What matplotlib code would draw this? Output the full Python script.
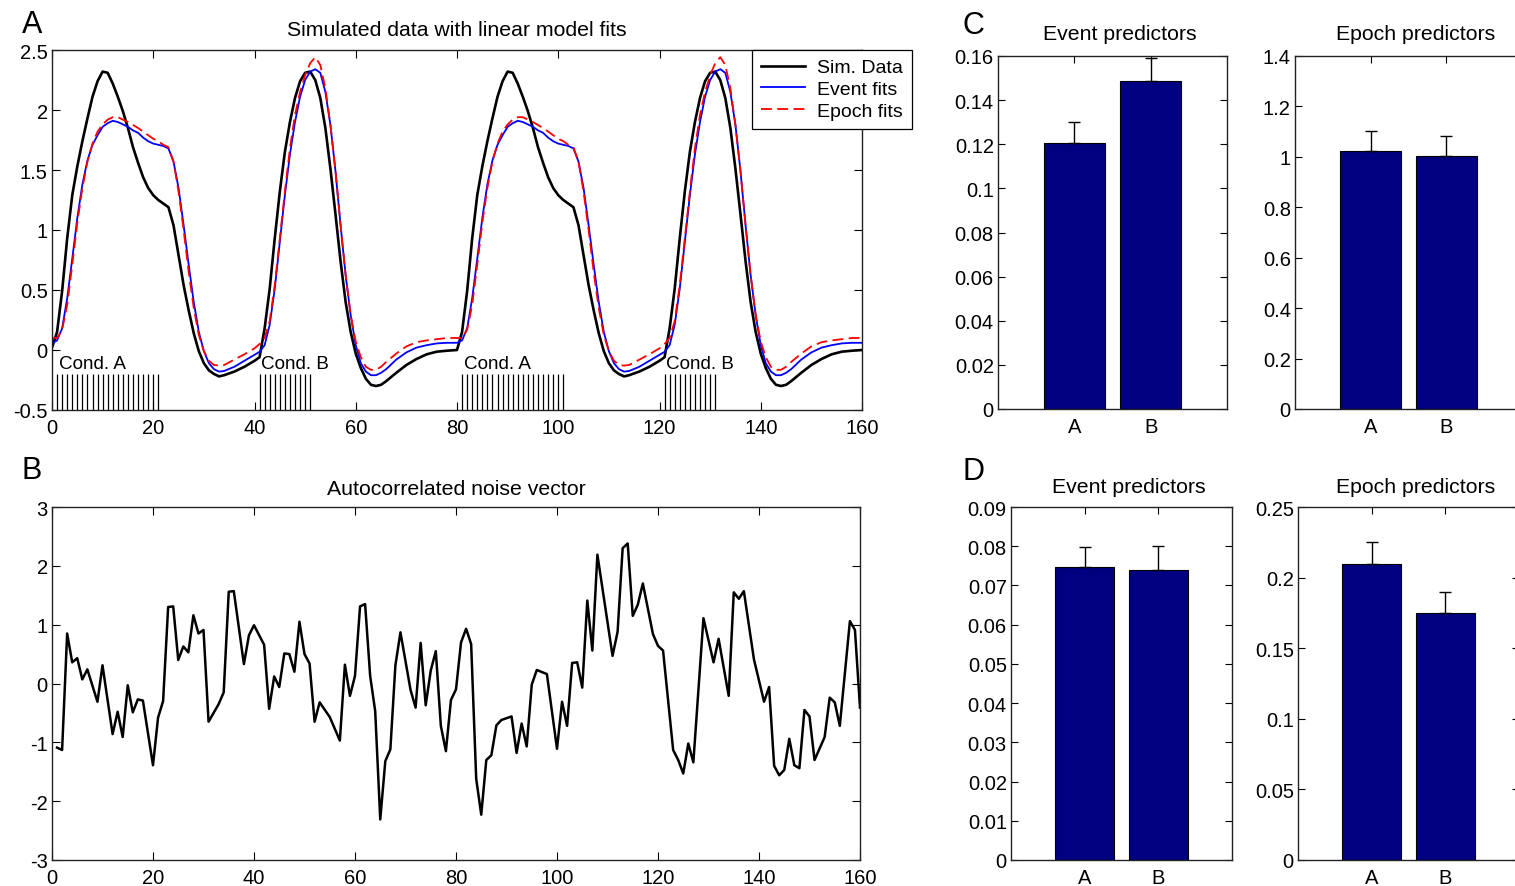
import matplotlib
matplotlib.use("Agg")
import matplotlib.pyplot as plt
import numpy as np
from matplotlib.ticker import FuncFormatter

plt.rcParams['font.family'] = ['Liberation Sans', 'DejaVu Sans']
plt.rcParams['axes.unicode_minus'] = False

# ---------------- Panel A data ----------------
t_fit = [0, 1, 2, 3, 4, 5, 6, 7, 8, 9, 10, 11, 12, 13, 14, 15, 16, 17, 18, 19, 20,
         21, 22, 23, 24, 25, 26, 27, 28, 29, 30, 31, 32, 33, 34, 36, 38, 40, 41, 42,
         43, 44, 45, 46, 47, 48, 49, 50, 51, 52, 53, 54, 55, 56, 57, 58, 59, 60, 61,
         62, 63, 64, 65, 66, 68, 70, 72, 74, 76, 78, 80,
         81, 82, 83, 84, 85, 86, 87, 88, 89, 90, 91, 92, 93, 94, 95, 96, 97, 98, 99, 100,
         101, 102, 103, 104, 105, 106, 107, 108, 109, 110, 111, 112, 113, 114, 116, 118, 120, 121, 122,
         123, 124, 125, 126, 127, 128, 129, 130, 131, 132, 133, 134, 135, 136, 137, 138, 139, 140, 141,
         142, 143, 144, 145, 146, 148, 150, 152, 154, 156, 158, 160]

sim_data = [0.02, 0.15, 0.49, 0.93, 1.29, 1.53, 1.74, 1.93, 2.11, 2.24, 2.32, 2.31, 2.22, 2.11, 1.99, 1.85, 1.69, 1.56, 1.44, 1.35, 1.29,
            1.25, 1.22, 1.19, 1.04, 0.79, 0.54, 0.33, 0.14, -0.01, -0.11, -0.17, -0.20, -0.22, -0.21, -0.18, -0.14, -0.09, -0.06, 0.18,
            0.51, 0.93, 1.32, 1.65, 1.90, 2.10, 2.24, 2.31, 2.32, 2.25, 2.10, 1.85, 1.51, 1.13, 0.74, 0.40, 0.15, -0.03, -0.15,
            -0.24, -0.29, -0.30, -0.29, -0.26, -0.19, -0.125, -0.075, -0.036, -0.014, -0.006, 0.0,
            0.15, 0.49, 0.93, 1.29, 1.53, 1.74, 1.93, 2.11, 2.24, 2.32, 2.31, 2.22, 2.11, 1.99, 1.85, 1.69, 1.56, 1.44, 1.35, 1.29,
            1.25, 1.22, 1.19, 1.04, 0.79, 0.54, 0.33, 0.14, -0.01, -0.11, -0.17, -0.20, -0.22, -0.21, -0.18, -0.14, -0.09, -0.06, 0.18,
            0.51, 0.93, 1.32, 1.65, 1.90, 2.10, 2.24, 2.31, 2.32, 2.25, 2.10, 1.85, 1.51, 1.13, 0.74, 0.40, 0.15, -0.03, -0.15,
            -0.24, -0.29, -0.30, -0.29, -0.26, -0.19, -0.125, -0.075, -0.036, -0.014, -0.006, 0.0]

event_fit = [0.055, 0.08, 0.18, 0.43, 0.76, 1.10, 1.38, 1.58, 1.71, 1.79, 1.86, 1.89, 1.91, 1.90, 1.88, 1.86, 1.83, 1.81, 1.77, 1.74, 1.72,
             1.71, 1.70, 1.68, 1.57, 1.35, 1.04, 0.71, 0.40, 0.15, -0.01, -0.11, -0.16, -0.18, -0.175, -0.14, -0.09, -0.04, -0.015, 0.04,
             0.21, 0.51, 0.90, 1.29, 1.63, 1.90, 2.11, 2.25, 2.32, 2.34, 2.31, 2.15, 1.875, 1.49, 1.04, 0.625, 0.29, 0.04, -0.11,
             -0.18, -0.21, -0.21, -0.19, -0.16, -0.08, -0.02, 0.02, 0.04, 0.055, 0.06, 0.06,
             0.08, 0.18, 0.43, 0.76, 1.10, 1.38, 1.58, 1.71, 1.79, 1.86, 1.89, 1.91, 1.90, 1.88, 1.86, 1.83, 1.81, 1.77, 1.74, 1.72,
             1.71, 1.70, 1.68, 1.57, 1.35, 1.04, 0.71, 0.40, 0.15, -0.01, -0.11, -0.16, -0.18, -0.175, -0.14, -0.09, -0.04, -0.015, 0.04,
             0.21, 0.51, 0.90, 1.29, 1.63, 1.90, 2.11, 2.25, 2.32, 2.34, 2.31, 2.15, 1.875, 1.49, 1.04, 0.625, 0.29, 0.04, -0.11,
             -0.18, -0.21, -0.21, -0.19, -0.16, -0.08, -0.02, 0.02, 0.04, 0.055, 0.06, 0.06]

epoch_fit = [0.10, 0.10, 0.17, 0.375, 0.71, 1.06, 1.35, 1.57, 1.72, 1.82, 1.88, 1.92, 1.94, 1.94, 1.92, 1.90, 1.875, 1.85, 1.82, 1.79, 1.76,
             1.74, 1.71, 1.69, 1.57, 1.32, 1.00, 0.65, 0.35, 0.125, -0.01, -0.09, -0.125, -0.13, -0.125, -0.08, -0.036, 0.014, 0.05, 0.10,
             0.24, 0.54, 0.93, 1.32, 1.68, 1.96, 2.15, 2.29, 2.39, 2.44, 2.375, 2.18, 1.875, 1.49, 1.04, 0.625, 0.29, 0.07, -0.06,
             -0.14, -0.165, -0.165, -0.14, -0.10, -0.03, 0.03, 0.065, 0.08, 0.09, 0.10, 0.10,
             0.10, 0.17, 0.375, 0.71, 1.06, 1.35, 1.57, 1.72, 1.82, 1.88, 1.92, 1.94, 1.94, 1.92, 1.90, 1.875, 1.85, 1.82, 1.79, 1.76,
             1.74, 1.71, 1.69, 1.57, 1.32, 1.00, 0.65, 0.35, 0.125, -0.01, -0.09, -0.125, -0.13, -0.125, -0.08, -0.036, 0.014, 0.05, 0.10,
             0.24, 0.54, 0.93, 1.32, 1.68, 1.96, 2.15, 2.29, 2.39, 2.44, 2.375, 2.18, 1.875, 1.49, 1.04, 0.625, 0.29, 0.07, -0.06,
             -0.14, -0.165, -0.165, -0.14, -0.10, -0.03, 0.03, 0.065, 0.08, 0.09, 0.10, 0.10]

condA_onsets = list(range(1, 22)) + list(range(81, 102))
condB_onsets = list(range(41, 52)) + list(range(121, 132))
cond_labels = ["Cond. A", "Cond. B", "Cond. A", "Cond. B"]
cond_label_x = [1.3, 41.3, 81.3, 121.3]

# ---------------- Panel B data ----------------
noise_t = [1, 2, 3, 4, 5, 6, 7, 9, 10, 12, 13, 14, 15, 16, 17, 18, 20, 21, 22, 23, 24, 25, 26, 27, 28, 29, 30,
           31, 33, 34, 35, 36, 38, 39, 40, 42, 43, 44, 45, 46, 47, 48, 49, 50, 51, 52, 53, 55, 57, 58, 59, 60,
           61, 62, 63, 64, 65, 66, 67, 68, 69, 71, 72, 73, 74, 75, 76, 77, 78, 79, 80, 81, 82, 83, 84, 85, 86,
           87, 88, 89, 91, 92, 93, 94, 95, 96, 98, 100, 101, 102, 103, 104, 105, 106, 107, 108, 111, 112, 113,
           114, 115, 116, 117, 119, 120, 121, 123, 124, 125, 126, 127, 129, 131, 132, 134, 135, 136, 137, 139,
           141, 142, 143, 144, 145, 146, 147, 148, 149, 150, 151, 153, 154, 155, 156, 158, 159, 160]
noise_v = [-1.09, -1.13, 0.85, 0.36, 0.43, 0.07, 0.24, -0.31, 0.31, -0.86, -0.48, -0.91, -0.03, -0.49, -0.27, -0.29,
           -1.39, -0.58, -0.30, 1.30, 1.31, 0.40, 0.63, 0.53, 1.16, 0.85, 0.91,
           -0.65, -0.35, -0.15, 1.56, 1.57, 0.33, 0.82, 0.99, 0.66, -0.43, 0.12, -0.06, 0.51, 0.50, 0.20, 1.05, 0.50,
           0.34, -0.65, -0.32, -0.57, -0.97, 0.32, -0.21, 0.13,
           1.31, 1.35, 0.13, -0.47, -2.31, -1.32, -1.12, 0.31, 0.87, -0.11, -0.41, 0.69, -0.37, 0.22, 0.55, -0.72,
           -1.15, -0.28, -0.10, 0.70, 0.93, 0.67, -1.62, -2.23, -1.30,
           -1.22, -0.71, -0.62, -0.56, -1.18, -0.68, -1.07, -0.02, 0.23, 0.16, -1.11, -0.31, -0.72, 0.35, 0.36,
           -0.07, 1.41, 0.56, 2.19, 0.47, 0.88, 2.30,
           2.38, 1.15, 1.34, 1.70, 0.84, 0.64, 0.56, -1.13, -1.30, -1.53, -1.02, -1.34, 1.11, 0.36, 0.76, -0.21,
           1.55, 1.44, 1.57, 0.41,
           -0.31, -0.06, -1.40, -1.56, -1.47, -0.94, -1.39, -1.44, -0.45, -0.56, -1.30, -0.91, -0.24, -0.32, -0.72,
           1.06, 0.91, -0.41]

# ---------------- Panels C / D data ----------------
bar_labels = ["A", "B"]
c_event_vals = [0.1206, 0.1485]
c_event_err = [0.0097, 0.0107]
c_epoch_vals = [1.022, 1.003]
c_epoch_err = [0.080, 0.078]
d_event_vals = [0.0746, 0.0740]
d_event_err = [0.0051, 0.0061]
d_epoch_vals = [0.2099, 0.1751]
d_epoch_err = [0.0154, 0.0146]

W, H = 1515, 887
fig = plt.figure(figsize=(W / 100, H / 100), dpi=100)


def px_axes(left, top, right, bottom):
    return fig.add_axes([left / W, 1 - bottom / H, (right - left) / W, (bottom - top) / H])


fmt = FuncFormatter(lambda v, p: "%g" % round(v, 6))
FS = 14.5      # tick labels
TFS = 15.3     # titles
LFS = 14       # legend / annotations


def style(ax, ticklen):
    ax.tick_params(direction='in', top=True, right=True, length=ticklen, width=0.8,
                   labelsize=FS, colors='black')
    ax.tick_params(axis='x', pad=6)
    ax.tick_params(axis='y', pad=3)
    for s in ax.spines.values():
        s.set_linewidth(1.0)
        s.set_color('#222222')


# ---- Panel A ----
axA = px_axes(52, 51, 862, 411)
axA.plot(t_fit, sim_data, color='black', lw=1.9, label='Sim. Data')
axA.plot(t_fit, event_fit, color='#0000ff', lw=1.3, label='Event fits')
axA.plot(t_fit, epoch_fit, color='#ff0000', lw=1.3, ls=(0, (6, 3)), label='Epoch fits')
axA.vlines(condA_onsets, -0.5, -0.2, color='black', lw=0.9)
axA.vlines(condB_onsets, -0.5, -0.2, color='black', lw=0.9)
for lx, lab in zip(cond_label_x, cond_labels):
    axA.text(lx, -0.185, lab, fontsize=13.6, ha='left', va='bottom')
axA.set_xlim(0, 160)
axA.set_ylim(-0.5, 2.5)
axA.set_xticks(np.arange(0, 161, 20))
axA.set_yticks(np.arange(-0.5, 2.51, 0.5))
axA.xaxis.set_major_formatter(fmt)
axA.yaxis.set_major_formatter(fmt)
style(axA, 6)
axA.set_title("Simulated data with linear model fits", fontsize=TFS, pad=10.5)
leg = axA.legend(loc='upper left', bbox_to_anchor=(752 / W, 1 - 51 / H), bbox_transform=fig.transFigure,
                 borderaxespad=0, fancybox=False, framealpha=1, edgecolor='black', fontsize=LFS,
                 handlelength=2.3, handletextpad=0.6, labelspacing=0.22, borderpad=0.45)
leg.get_frame().set_linewidth(0.9)
fig.text(22 / W, 1 - 33 / H, "A", fontsize=22, ha='left', va='baseline')

# ---- Panel B ----
axB = px_axes(52, 508, 860, 861)
axB.plot(noise_t, noise_v, color='black', lw=1.8)
axB.set_xlim(0, 160)
axB.set_ylim(-3, 3)
axB.set_xticks(np.arange(0, 161, 20))
axB.set_yticks(np.arange(-3, 4, 1))
axB.xaxis.set_major_formatter(fmt)
axB.yaxis.set_major_formatter(fmt)
style(axB, 6)
axB.set_title("Autocorrelated noise vector", fontsize=TFS, pad=9.5)
fig.text(22 / W, 1 - 479 / H, "B", fontsize=22, ha='left', va='baseline')


# ---- Bars ----
def bar_panel(ax, vals, errs, ymax, step, title, tpad, wpx):
    x = np.arange(1, len(vals) + 1)
    ax.bar(x, vals, width=0.8, color='#000080', edgecolor='black', linewidth=0.8, zorder=2)
    ax.errorbar(x, vals, yerr=[np.zeros(len(errs)), errs], fmt='none', ecolor='black',
                elinewidth=1.0, capsize=4, capthick=1.0, zorder=3)
    ax.set_xlim(0, 3)
    ax.set_ylim(0, ymax)
    ax.set_xticks(x)
    ax.set_xticklabels(bar_labels)
    ax.set_yticks(np.arange(0, ymax + step / 2, step))
    ax.yaxis.set_major_formatter(fmt)
    style(ax, 5)
    t = ax.set_title(title, fontsize=TFS, pad=tpad)
    t.set_x(0.5 + 7.0 / wpx)


axC1 = px_axes(998, 57, 1227, 410)
bar_panel(axC1, c_event_vals, c_event_err, 0.16, 0.02, "Event predictors", 12, 229)
axC2 = px_axes(1295, 57, 1522, 410)
bar_panel(axC2, c_epoch_vals, c_epoch_err, 1.4, 0.2, "Epoch predictors", 12, 227)
fig.text(962 / W, 1 - 34 / H, "C", fontsize=22, ha='left', va='baseline')

axD1 = px_axes(1011, 508, 1232, 861)
bar_panel(axD1, d_event_vals, d_event_err, 0.09, 0.01, "Event predictors", 10.5, 221)
axD2 = px_axes(1298, 508, 1519, 861)
bar_panel(axD2, d_epoch_vals, d_epoch_err, 0.25, 0.05, "Epoch predictors", 10.5, 221)
fig.text(962 / W, 1 - 480 / H, "D", fontsize=22, ha='left', va='baseline')

fig.savefig("out.png", dpi=100)
